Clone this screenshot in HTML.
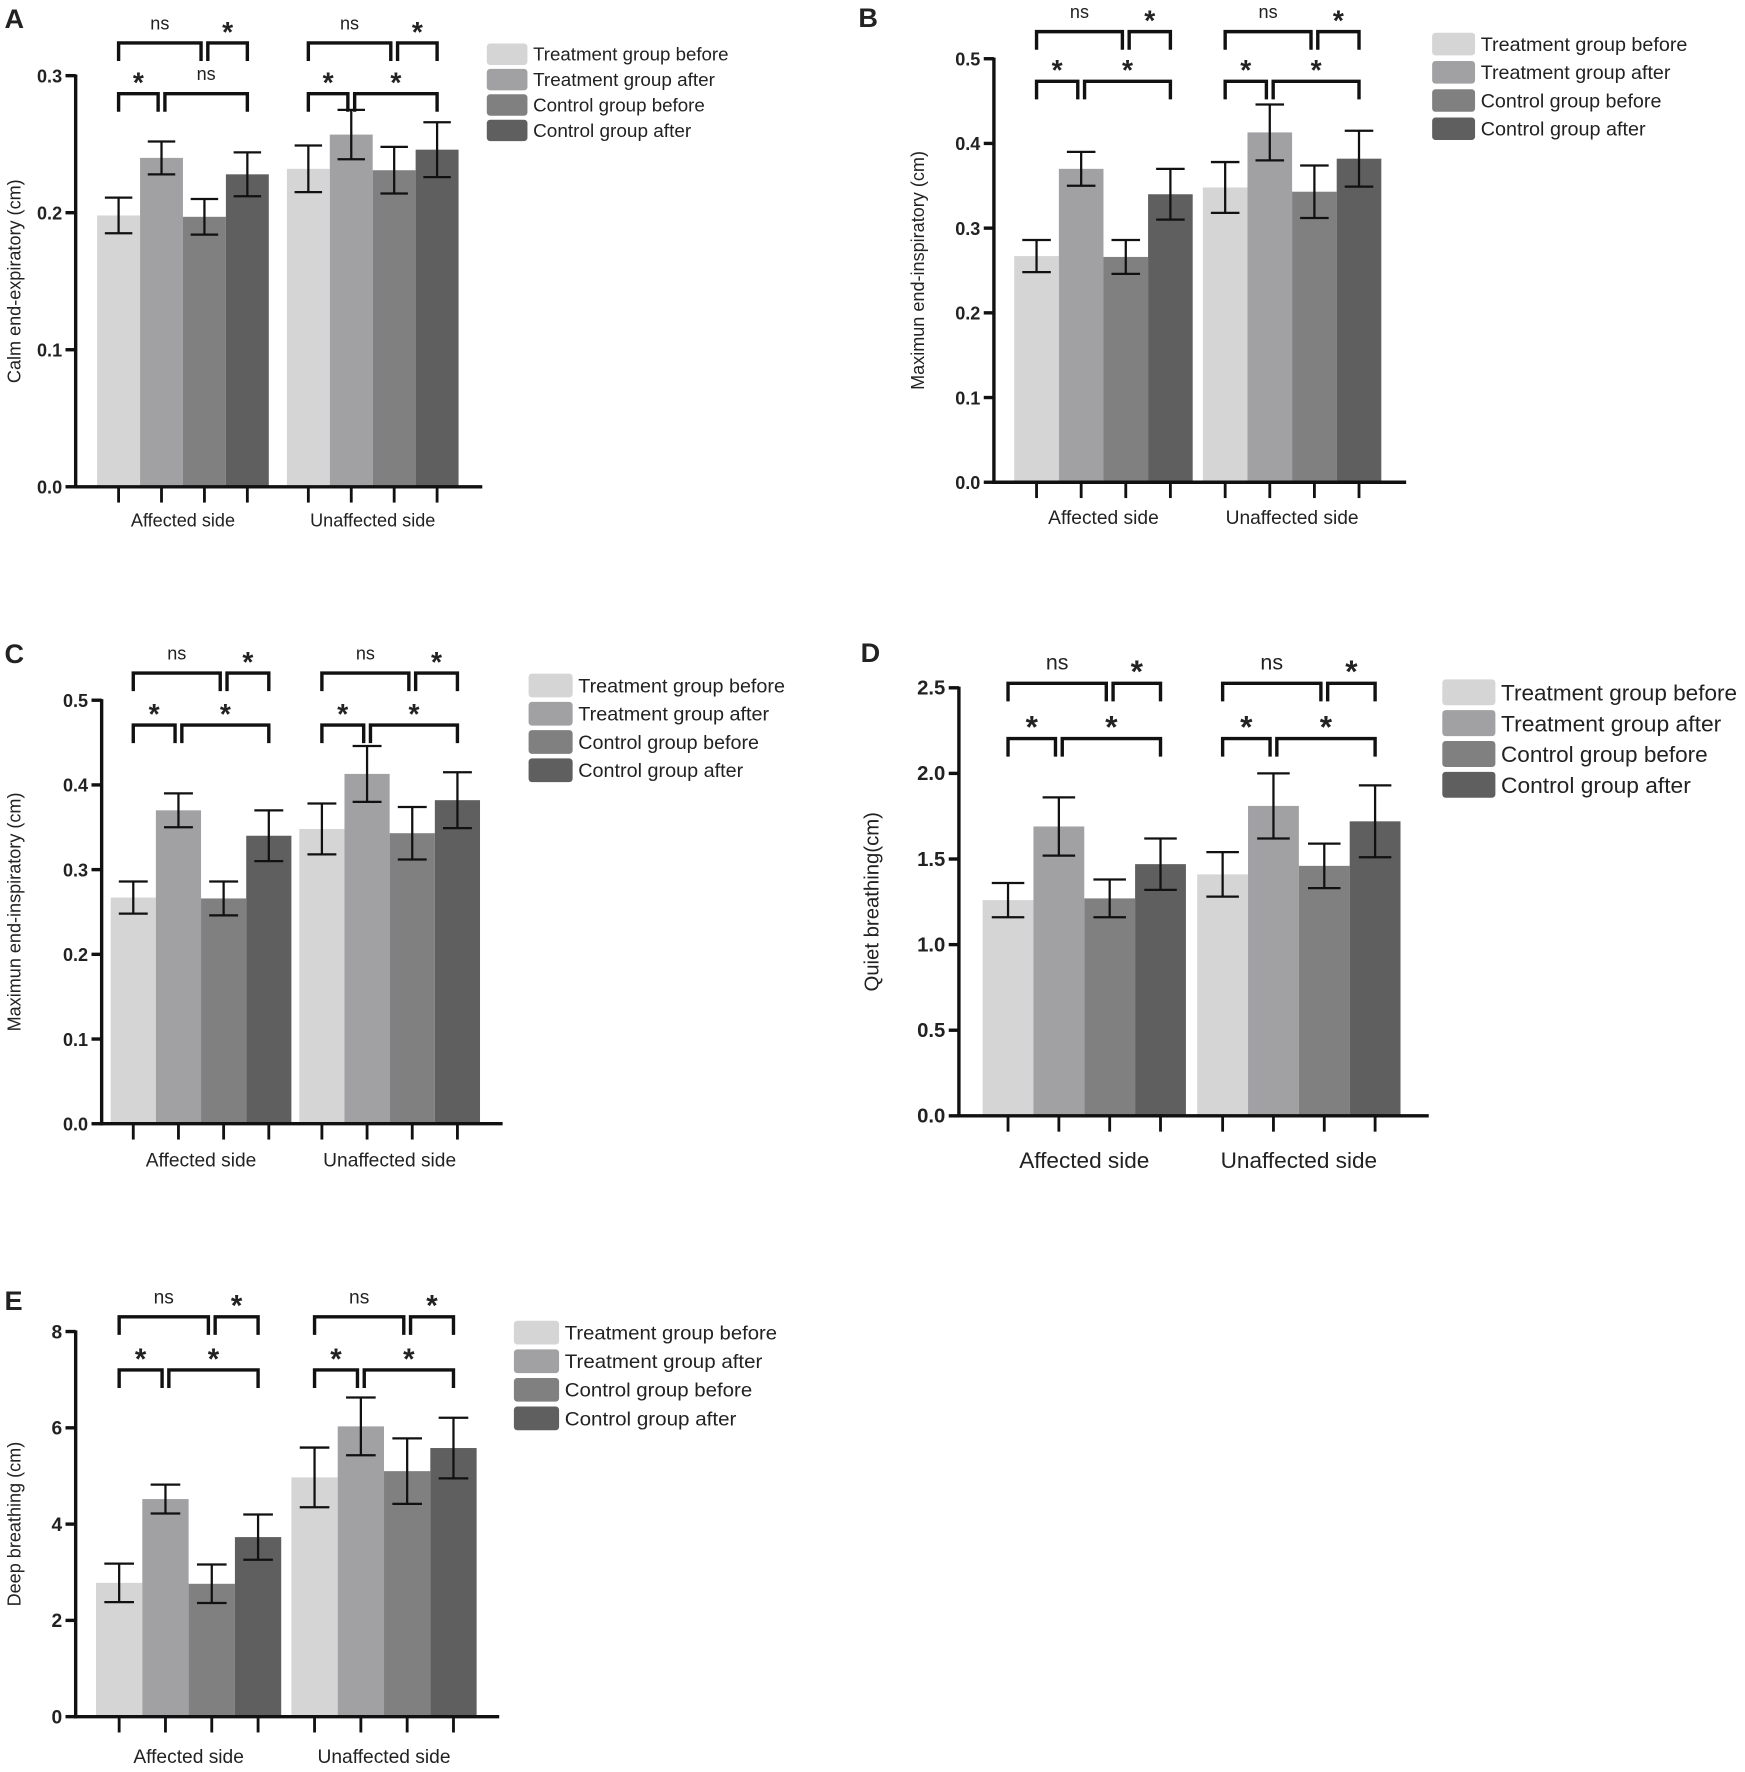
<!DOCTYPE html>
<html><head><meta charset="utf-8">
<style>
html,body{margin:0;padding:0;background:#fff;}
svg{display:block;}
text{font-family:"Liberation Sans",Arial,sans-serif;fill:#222;}
</style></head>
<body>
<svg id="fig" width="1745" height="1772" viewBox="0 0 1545 1569" preserveAspectRatio="none" xmlns="http://www.w3.org/2000/svg"></svg>
<script>
// ---- data ----
const groupLabels = ["Affected side", "Unaffected side"];
const seriesNames = ["Treatment group before", "Treatment group after", "Control group before", "Control group after"];
const seriesColors = ["#d5d5d5", "#a1a1a4", "#808080", "#5f5f5f"];

const aValues = [0.198, 0.240, 0.197, 0.228, 0.232, 0.257, 0.231, 0.246];
const aErrors = [0.013, 0.012, 0.013, 0.016, 0.017, 0.018, 0.017, 0.020];
const aTicks = [0.0, 0.1, 0.2, 0.3];
const aSig = [["ns","*","*","ns"],["ns","*","*","*"]];

const bValues = [0.267, 0.370, 0.266, 0.340, 0.348, 0.413, 0.343, 0.382];
const bErrors = [0.019, 0.020, 0.020, 0.030, 0.030, 0.033, 0.031, 0.033];
const bTicks = [0.0, 0.1, 0.2, 0.3, 0.4, 0.5];
const bSig = [["ns","*","*","*"],["ns","*","*","*"]];

const cValues = [0.267, 0.370, 0.266, 0.340, 0.348, 0.413, 0.343, 0.382];
const cErrors = [0.019, 0.020, 0.020, 0.030, 0.030, 0.033, 0.031, 0.033];
const cTicks = [0.0, 0.1, 0.2, 0.3, 0.4, 0.5];
const cSig = [["ns","*","*","*"],["ns","*","*","*"]];

const dValues = [1.26, 1.69, 1.27, 1.47, 1.41, 1.81, 1.46, 1.72];
const dErrors = [0.10, 0.17, 0.11, 0.15, 0.13, 0.19, 0.13, 0.21];
const dTicks = [0.0, 0.5, 1.0, 1.5, 2.0, 2.5];
const dSig = [["ns","*","*","*"],["ns","*","*","*"]];

const eValues = [2.78, 4.52, 2.76, 3.73, 4.97, 6.03, 5.10, 5.58];
const eErrors = [0.40, 0.30, 0.40, 0.47, 0.62, 0.60, 0.68, 0.63];
const eTicks = [0, 2, 4, 6, 8];
const eSig = [["ns","*","*","*"],["ns","*","*","*"]];

// ---- drawing ----
const NS = "http://www.w3.org/2000/svg";
const fig = document.getElementById("fig");
function mk(tag, attrs, parent, txt){
  const e = document.createElementNS(NS, tag);
  for (const k in attrs) e.setAttribute(k, attrs[k]);
  if (txt !== undefined) e.textContent = txt;
  (parent || fig).appendChild(e);
  return e;
}

function panel(p){
  const g = mk("g", {});
  
  
  const maxT = p.ticks[p.ticks.length-1];
  const yS = v => p.y0 - (v / maxT) * (p.y0 - p.yTop);
  const bw = p.bw;
  const cx = i => (i < 4 ? p.g1 : p.g2) + ((i % 4) - 1.5) * bw;

  const lbl = mk("text", {x:p.lx, y:p.ly, "font-size":24, "font-weight":"bold"}, g, p.letter);
  
  

  p.values.forEach((v, i) => {
    const r = mk("rect", {x:cx(i)-bw/2, y:yS(v), width:bw, height:p.y0-yS(v), fill:seriesColors[i%4]}, g);
    
    
  });
  p.values.forEach((v, i) => {
    const e = p.errors[i], x = cx(i), hw = bw*0.32;
    const eg = mk("g", {stroke:"#111", "stroke-width":2}, g);
    
    
    mk("line", {x1:x, x2:x, y1:yS(v+e), y2:yS(v-e)}, eg);
    mk("line", {x1:x-hw, x2:x+hw, y1:yS(v+e), y2:yS(v+e)}, eg);
    mk("line", {x1:x-hw, x2:x+hw, y1:yS(v-e), y2:yS(v-e)}, eg);
  });
  const ya = mk("line", {x1:p.ax, x2:p.ax, y1:p.yTop-1, y2:p.y0+1.5, stroke:"#111", "stroke-width":3}, g);
  
  
  const xa = mk("line", {x1:p.ax-1.5, x2:p.axEnd, y1:p.y0, y2:p.y0, stroke:"#111", "stroke-width":3}, g);
  
  
  p.ticks.forEach(t => {
    mk("line", {x1:p.ax-9, x2:p.ax, y1:yS(t), y2:yS(t), stroke:"#111", "stroke-width":3}, g);
    const tl = mk("text", {x:p.ax-12, y:yS(t)+6, "font-size":p.tfs, "font-weight":"bold", "text-anchor":"end"}, g, p.fmt(t));
    
    
  });
  for (let i=0;i<8;i++) mk("line", {x1:cx(i), x2:cx(i), y1:p.y0, y2:p.y0+14, stroke:"#111", "stroke-width":2.5}, g);
  groupLabels.forEach((s, k) => {
    const xl = mk("text", {x:k? p.g2 : p.g1, y:p.xly, "font-size":p.xfs, "text-anchor":"middle"}, g, s);
    
    
  });
  const yt = mk("text", {x:0, y:0, "font-size":p.yfs, "text-anchor":"middle", transform:`translate(${p.ylx},${(p.yTop+p.y0)/2}) rotate(-90)`}, g, p.ytitle);
  
  

  [0,1].forEach(k => {
    const b = k*4;
    const defs = [[b, b+2, p.r1, p.sig[k][0]], [b+2, b+3, p.r1, p.sig[k][1]], [b, b+1, p.r2, p.sig[k][2]], [b+1, b+3, p.r2, p.sig[k][3]]];
    defs.forEach(([i, j, y, s], n) => {
      const x1 = cx(i) + (n===1||n===3 ? 3 : 0), x2 = cx(j) - (n===0||n===2 ? 3 : 0);
      const br = mk("path", {d:`M${x1},${y+16} V${y} H${x2} V${y+16}`, fill:"none", stroke:"#111", "stroke-width":3}, g);
      
      
      const st = mk("text", {x:(x1+x2)/2, y:y - (s==="ns"?12:1), "font-size": s==="ns"? p.nsfs : p.nsfs+9, "font-weight": s==="ns"?"normal":"bold", "text-anchor":"middle"}, g, s);
      
      
    });
  });
  seriesNames.forEach((s, i) => {
    const lg = mk("g", {}, g);
    
    
    const y = p.legY + i*p.legDy;
    mk("rect", {x:p.legX, y:y-p.legH/2, width:p.legW, height:p.legH, rx:3, fill:seriesColors[i]}, lg);
    mk("text", {x:p.legX+p.legW+5, y:y+p.lfs*0.36, "font-size":p.lfs, textLength:p.ltl[i], lengthAdjust:"spacingAndGlyphs"}, lg, s);
  });
}

const f1 = v => v.toFixed(1), f0 = v => String(v);
panel({letter:"A", lx:4, ly:25, values:aValues, errors:aErrors, ticks:aTicks, sig:aSig, fmt:f1,
  ax:67, axEnd:427, y0:431, yTop:67, g1:162, g2:330, bw:38, tfs:16, xfs:16, yfs:16, xly:466, ylx:18,
  ytitle:"Calm end-expiratory (cm)", r1:38, r2:83, nsfs:16,
  legX:431, legY:48, legDy:22.5, legW:36, legH:19, lfs:16, ltl:[173,161,152,140]});
panel({letter:"B", lx:760, ly:24, values:bValues, errors:bErrors, ticks:bTicks, sig:bSig, fmt:f1,
  ax:880, axEnd:1245, y0:427, yTop:52, g1:977, g2:1144, bw:39.5, tfs:16, xfs:17, yfs:16, xly:464, ylx:818,
  ytitle:"Maximun end-inspiratory (cm)", r1:28, r2:72, nsfs:16,
  legX:1268, legY:39, legDy:25, legW:38, legH:20, lfs:17, ltl:[183,168,160,146]});
panel({letter:"C", lx:4, ly:587, values:cValues, errors:cErrors, ticks:cTicks, sig:cSig, fmt:f1,
  ax:90, axEnd:445, y0:995, yTop:620, g1:178, g2:345, bw:40, tfs:16, xfs:17, yfs:16, xly:1033, ylx:18,
  ytitle:"Maximun end-inspiratory (cm)", r1:596, r2:642, nsfs:16,
  legX:468, legY:607, legDy:25, legW:39, legH:21, lfs:17, ltl:[183,169,160,146]});
panel({letter:"D", lx:762, ly:586, values:dValues, errors:dErrors, ticks:dTicks, sig:dSig, fmt:f1,
  ax:849, axEnd:1265, y0:988, yTop:609, g1:960, g2:1150, bw:45, tfs:18, xfs:20, yfs:18, xly:1034, ylx:778,
  ytitle:"Quiet breathing(cm)", r1:605, r2:654, nsfs:19,
  legX:1277, legY:613, legDy:27.3, legW:47, legH:23, lfs:20, ltl:[209,195,183,168]});
panel({letter:"E", lx:4, ly:1160, values:eValues, errors:eErrors, ticks:eTicks, sig:eSig, fmt:f0,
  ax:67, axEnd:442, y0:1520, yTop:1179, g1:167, g2:340, bw:41, tfs:17, xfs:17, yfs:16, xly:1561, ylx:18,
  ytitle:"Deep breathing (cm)", r1:1166, r2:1213, nsfs:17,
  legX:455, legY:1180, legDy:25.3, legW:40, legH:21, lfs:17, ltl:[188,175,166,152]});
</script>
</body></html>
